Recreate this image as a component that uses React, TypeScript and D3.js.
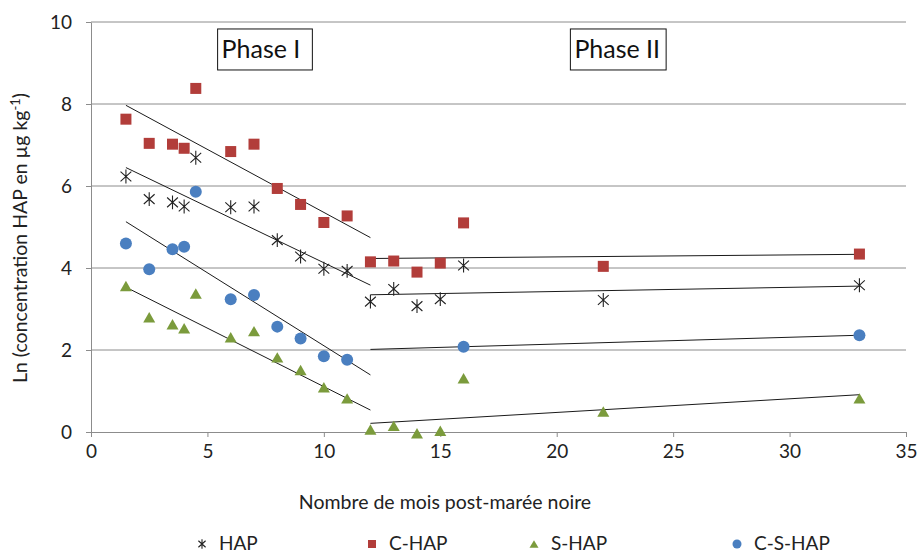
import { useRef, useEffect } from 'react'
import * as d3 from 'd3'

// months after the oil spill
const months = [1.5, 2.5, 3.5, 4, 4.5, 6, 7, 8, 9, 10, 11, 12, 13, 14, 15, 16, 22, 33]

// ln(concentration) per fraction, null where no sample
const hap = [6.23, 5.68, 5.6, 5.5, 6.69, 5.48, 5.5, 4.68, 4.28, 3.98, 3.93, 3.18, 3.49, 3.07, 3.24, 4.06, 3.22, 3.58]
const cHap = [7.63, 7.04, 7.02, 6.92, 8.38, 6.84, 7.02, 5.94, 5.55, 5.11, 5.27, 4.15, 4.17, 3.9, 4.12, 5.1, 4.04, 4.34]
const sHap = [3.56, 2.8, 2.63, 2.53, 3.38, 2.31, 2.46, 1.82, 1.51, 1.09, 0.82, 0.06, 0.15, -0.03, 0.03, 1.31, 0.5, 0.82]
const csHap = [4.6, 3.97, 4.46, 4.52, 5.86, 3.24, 3.34, 2.57, 2.28, 1.85, 1.76, null, null, null, null, 2.08, null, 2.36]

// trend lines are fitted separately on each phase
const phases = [
  { label: 'Phase I', from: 1.5, to: 12, cx: 7.3 },
  { label: 'Phase II', from: 12, to: 33, cx: 22.6 },
]

const xTicks = [0, 5, 10, 15, 20, 25, 30, 35]
const yTicks = [0, 2, 4, 6, 8, 10]

type Shape = 'star' | 'square' | 'triangle' | 'circle'
const series: { name: string; values: (number | null)[]; shape: Shape; color: string }[] = [
  { name: 'HAP', values: hap, shape: 'star', color: '#222' },
  { name: 'C-HAP', values: cHap, shape: 'square', color: '#b23d3a' },
  { name: 'S-HAP', values: sHap, shape: 'triangle', color: '#7b9b3c' },
  { name: 'C-S-HAP', values: csHap, shape: 'circle', color: '#4a7fc0' },
]

const FONT = 'Lato, "Open Sans", sans-serif'

function drawMarker(g: d3.Selection<SVGGElement, unknown, null, undefined>, shape: Shape, color: string, x: number, y: number, s: number) {
  if (shape === 'square') {
    g.append('rect').attr('x', x - s / 2).attr('y', y - s / 2).attr('width', s).attr('height', s).attr('fill', color)
  } else if (shape === 'circle') {
    g.append('circle').attr('cx', x).attr('cy', y).attr('r', s / 2 + 0.5).attr('fill', color)
  } else if (shape === 'triangle') {
    const h = s * 0.95
    g.append('path')
      .attr('d', `M${x},${y - h / 2}L${x + s / 2 + 0.5},${y + h / 2}L${x - s / 2 - 0.5},${y + h / 2}Z`)
      .attr('fill', color)
  } else {
    // Excel "star": an X crossed by a vertical bar
    const w = s * 0.45
    const h = s * 0.58
    g.append('path')
      .attr('d', `M${x},${y - h}V${y + h}M${x - w},${y - h * 0.7}L${x + w},${y + h * 0.7}M${x - w},${y + h * 0.7}L${x + w},${y - h * 0.7}`)
      .attr('stroke', color)
      .attr('stroke-width', 1.1)
      .attr('fill', 'none')
  }
}

function fit(xs: number[], ys: number[]) {
  const mx = d3.mean(xs) ?? 0
  const my = d3.mean(ys) ?? 0
  const sxy = d3.sum(xs, (x, i) => (x - mx) * (ys[i] - my))
  const sxx = d3.sum(xs, (x) => (x - mx) ** 2)
  const slope = sxy / sxx
  return (x: number) => my + slope * (x - mx)
}

export default function App() {
  const svgRef = useRef<SVGSVGElement>(null)

  useEffect(() => {
    if (!svgRef.current) return
    const svg = d3.select(svgRef.current)
    svg.selectAll('*').remove()

    const x = d3.scaleLinear().domain([0, 35]).range([91, 906])
    const y = d3.scaleLinear().domain([0, 10]).range([432, 22])

    // gridlines
    svg
      .append('g')
      .selectAll('line')
      .data(yTicks.filter((t) => t > 0))
      .join('line')
      .attr('x1', x(0))
      .attr('x2', x(35))
      .attr('y1', (d) => y(d))
      .attr('y2', (d) => y(d))
      .attr('stroke', '#8c8c8c')
      .attr('stroke-width', 1)

    // axes
    const axisColor = '#8c8c8c'
    const xAxis = svg
      .append('g')
      .attr('transform', `translate(0,${y(0)})`)
      .call(d3.axisBottom(x).tickValues(xTicks).tickSize(5).tickPadding(8).tickSizeOuter(0))
    const yAxis = svg
      .append('g')
      .attr('transform', `translate(${x(0)},0)`)
      .call(d3.axisLeft(y).tickValues(yTicks).tickSize(5).tickPadding(14).tickSizeOuter(0))
    for (const ax of [xAxis, yAxis]) {
      ax.select('.domain').attr('stroke', axisColor)
      ax.selectAll('.tick line').attr('stroke', axisColor)
      ax.selectAll('.tick text').attr('fill', '#222').attr('font-family', FONT).attr('font-size', 19)
    }

    // trend lines
    const trends = svg.append('g')
    series.forEach((s) => {
      phases.forEach((p) => {
        const xs: number[] = []
        const ys: number[] = []
        months.forEach((m, i) => {
          const v = s.values[i]
          if (v != null && m >= p.from && m <= p.to) {
            xs.push(m)
            ys.push(v)
          }
        })
        if (xs.length < 2) return
        const f = fit(xs, ys)
        trends
          .append('line')
          .attr('x1', x(p.from))
          .attr('y1', y(f(p.from)))
          .attr('x2', x(p.to))
          .attr('y2', y(f(p.to)))
          .attr('stroke', '#1a1a1a')
          .attr('stroke-width', 1)
      })
    })

    // points
    const pts = svg.append('g')
    series.forEach((s) => {
      months.forEach((m, i) => {
        const v = s.values[i]
        if (v == null) return
        drawMarker(pts, s.shape, s.color, x(m), y(v), s.shape === 'star' ? 12 : 11)
      })
    })

    // phase boxes
    phases.forEach((p) => {
      const g = svg.append('g')
      const t = g
        .append('text')
        .attr('x', x(p.cx))
        .attr('y', y(9.83) + 29)
        .attr('text-anchor', 'middle')
        .attr('font-family', FONT)
        .attr('font-size', 25)
        .attr('fill', '#111')
        .text(p.label)
      const bb = (t.node() as SVGTextElement).getBBox()
      g.insert('rect', 'text')
        .attr('x', bb.x - 4)
        .attr('y', y(9.83))
        .attr('width', bb.width + 4 + (p.label === 'Phase I' ? 12 : 6))
        .attr('height', 41)
        .attr('fill', 'white')
        .attr('stroke', '#111')
        .attr('stroke-width', 1)
    })

    // axis titles
    svg
      .append('text')
      .attr('x', 445)
      .attr('y', 509)
      .attr('text-anchor', 'middle')
      .attr('font-family', FONT)
      .attr('font-size', 19.5)
      .attr('fill', '#222')
      .text('Nombre de mois post-marée noire')

    const yt = svg
      .append('text')
      .attr('transform', 'translate(27,238) rotate(-90)')
      .attr('text-anchor', 'middle')
      .attr('font-family', FONT)
      .attr('font-size', 19.5)
      .attr('fill', '#222')
    yt.append('tspan').text('Ln (concentration HAP en µg kg')
    yt.append('tspan').attr('dy', -7).attr('font-size', 13).text('-1')
    yt.append('tspan').attr('dy', 7).text(')')

    // legend
    const legendX = [202, 372, 534, 737]
    const lg = svg.append('g')
    series.forEach((s, i) => {
      drawMarker(lg, s.shape, s.color, legendX[i], 544, 8)
      lg.append('text')
        .attr('x', legendX[i] + 17)
        .attr('y', 550)
        .attr('font-family', FONT)
        .attr('font-size', 19)
        .attr('fill', '#222')
        .text(s.name)
    })
  }, [])

  return (
    <svg
      ref={svgRef}
      width={918}
      height={554}
      style={{ position: 'absolute', left: 0, top: 0, background: 'white' }}
    />
  )
}
